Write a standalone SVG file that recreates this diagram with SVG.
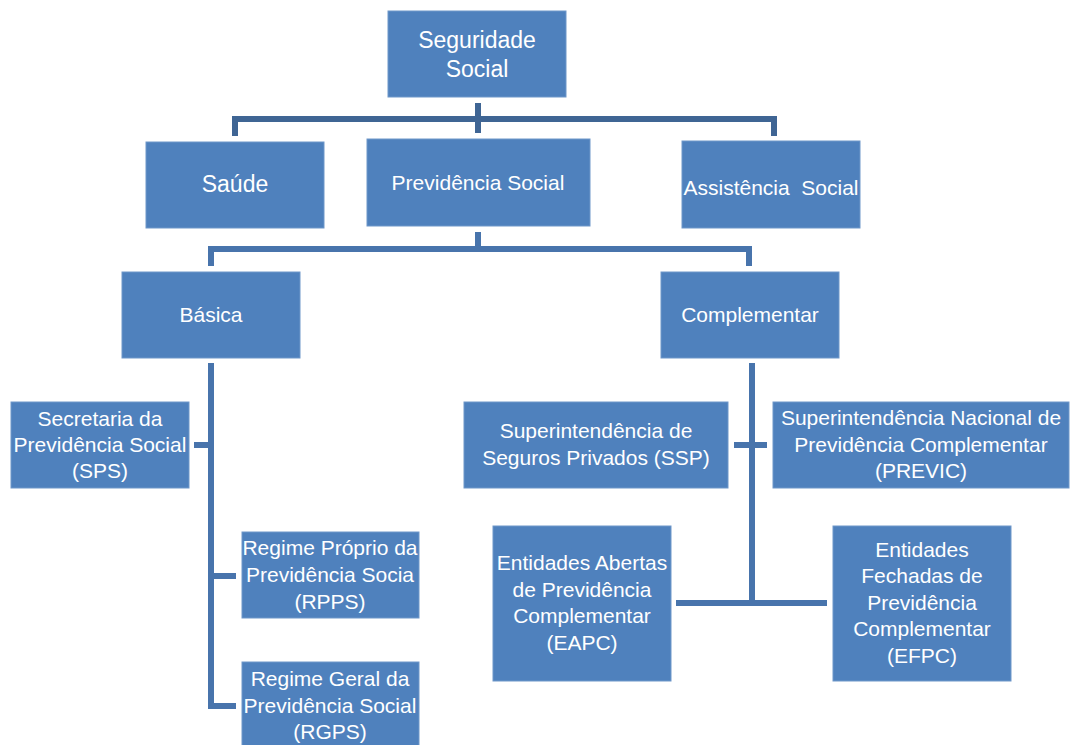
<svg xmlns="http://www.w3.org/2000/svg" width="1071" height="745" viewBox="0 0 1071 745">
<style>
.box{fill:#4F81BD;stroke:#6f97c9;stroke-width:1}
.t{font-family:"Liberation Sans",Arial,sans-serif;font-size:21px;fill:#FFFFFF;text-anchor:middle}
.big{font-size:23px}
.c{fill:none;stroke:#4874AC;stroke-width:6;stroke-linejoin:miter;stroke-linecap:butt}
.ct{stroke:#3F6594}
</style>
<rect width="1071" height="745" fill="#FFFFFF"/>
<g id="connectors">
<path class="c ct" d="M478 103 V133"/>
<path class="c ct" d="M235 136 V119 H774 V136"/>
<path class="c" d="M478 232 V249"/>
<path class="c" d="M211 266 V249 H749 V266"/>
<path class="c" d="M211 363 V706 H236"/>
<path class="c" d="M211 576 H236"/>
<path class="c" d="M194 445 H211"/>
<path class="c" d="M752 363 V603"/>
<path class="c" d="M734 445 H767"/>
<path class="c" d="M676 603 H827"/>
</g>
<g id="seguridade">
<rect class="box" x="388" y="11" width="178" height="86"/>
<text class="t big" x="477" y="48">Seguridade</text>
<text class="t big" x="477" y="77">Social</text>
</g>
<g id="saude">
<rect class="box" x="146" y="142" width="178" height="86"/>
<text class="t big" x="235" y="192">Saúde</text>
</g>
<g id="previdencia">
<rect class="box" x="367" y="139" width="223" height="87"/>
<text class="t" x="478" y="190">Previdência Social</text>
</g>
<g id="assistencia">
<rect class="box" x="682" y="141" width="178" height="87"/>
<text class="t" x="771" y="195" xml:space="preserve">Assistência  Social</text>
</g>
<g id="basica">
<rect class="box" x="122" y="272" width="178" height="86"/>
<text class="t" x="211" y="322">Básica</text>
</g>
<g id="complementar">
<rect class="box" x="661" y="272" width="178" height="86"/>
<text class="t" x="750" y="322">Complementar</text>
</g>
<g id="sps">
<rect class="box" x="11" y="402" width="178" height="86"/>
<text class="t" x="100" y="426">Secretaria da</text>
<text class="t" x="100" y="452">Previdência Social</text>
<text class="t" x="100" y="478">(SPS)</text>
</g>
<g id="ssp">
<rect class="box" x="464" y="402" width="264" height="86"/>
<text class="t" x="596" y="438">Superintendência de</text>
<text class="t" x="596" y="465">Seguros Privados (SSP)</text>
</g>
<g id="previc">
<rect class="box" x="773" y="402" width="296" height="86"/>
<text class="t" x="921" y="425">Superintendência Nacional de</text>
<text class="t" x="921" y="452">Previdência Complementar</text>
<text class="t" x="921" y="478">(PREVIC)</text>
</g>
<g id="rpps">
<rect class="box" x="242" y="532" width="177" height="86"/>
<text class="t" x="330" y="555">Regime Próprio da</text>
<text class="t" x="330" y="582">Previdência Socia</text>
<text class="t" x="330" y="609">(RPPS)</text>
</g>
<g id="rgps">
<rect class="box" x="242" y="662" width="177" height="90"/>
<text class="t" x="330" y="686">Regime Geral da</text>
<text class="t" x="330" y="713">Previdência Social</text>
<text class="t" x="330" y="739">(RGPS)</text>
</g>
<g id="eapc">
<rect class="box" x="493" y="526" width="178" height="155"/>
<text class="t" x="582" y="570">Entidades Abertas</text>
<text class="t" x="582" y="597">de Previdência</text>
<text class="t" x="582" y="623">Complementar</text>
<text class="t" x="582" y="650">(EAPC)</text>
</g>
<g id="efpc">
<rect class="box" x="833" y="526" width="178" height="155"/>
<text class="t" x="922" y="557">Entidades</text>
<text class="t" x="922" y="583">Fechadas de</text>
<text class="t" x="922" y="610">Previdência</text>
<text class="t" x="922" y="636">Complementar</text>
<text class="t" x="922" y="663">(EFPC)</text>
</g>
</svg>
